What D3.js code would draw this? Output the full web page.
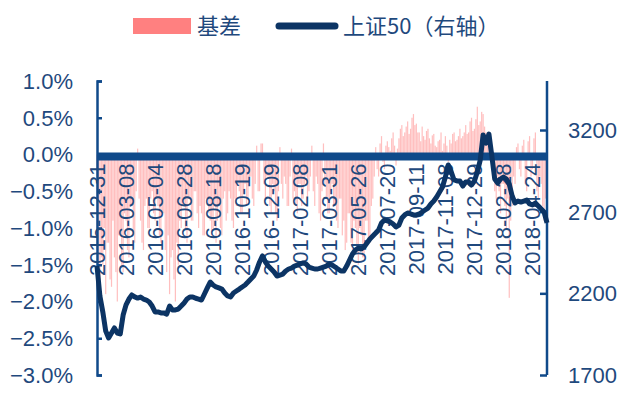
<!DOCTYPE html>
<html>
<head>
<meta charset="UTF-8">
<script src="https://d3js.org/d3.v7.min.js"></script>
<style>
  body { margin: 0; background: #fff; }
  svg text { font-family: "Liberation Sans", Arial, sans-serif; }
</style>
</head>
<body>
<div id="chart"></div>
<script>
// x tick labels and their positions (index in the 上证50 samples)
var tickLabels = ["2015-12-31", "2016-03-08", "2016-05-04", "2016-06-28", "2016-08-18", "2016-10-19",
  "2016-12-09", "2017-02-08", "2017-03-31", "2017-05-26", "2017-07-20", "2017-09-11",
  "2017-11-08", "2017-12-29", "2018-02-28", "2018-04-24"];
var tickIndex = [0, 10, 20, 30, 40, 50, 60, 70, 80, 90, 100, 110, 120, 130, 140, 150];

// 基差 (%)
var basis = [
  -1.3, -0.6, -2.0, -1.4, -1.5, -1.0, -1.9, -1.2, -1.2, -1.7, -1.8, -0.9, -1.4, -1.6, -2.0, -1.1, -1.1, -1.5, -1.6, -0.8,
  -0.9, -1.3, -1.4, -0.7, -0.7, -1.1, -1.2, -0.5, 0.08, -0.6, -0.9, -1.2, -1.3, -0.7, -0.6, -1.0, -1.0, -0.6, -0.5, -0.8,
  -0.9, -0.6, -0.7, -1.1, -1.2, -0.8, -0.8, -1.3, -1.6, -1.1, -1.9, -1.4, -1.3, -1.7, -2.0, -1.2, -1.5, -0.9, -1.0, -0.7,
  -0.7, -1.0, -1.2, -0.6, -0.6, -0.9, -0.9, -0.5, -0.5, -0.8, -1.0, -0.7, -0.8, -1.1, -1.1, -0.6, -0.6, -0.8, -0.9, -1.1,
  -1.0, -0.7, -1.2, -0.9, -0.7, -1.0, -1.1, -0.6, -0.5, -0.9, -0.8, -0.5, -0.6, -0.9, -1.0, -0.6, -0.7, -0.4, -0.5, -0.8,
  -0.8, -0.5, -0.4, -0.7, -0.6, -0.3, -0.3, -0.6, -0.7, -0.4, 0.12, -0.5, -0.5, 0.15, 0.15, -0.4, -0.6, -0.3, -0.3, -0.7,
  -0.8, -0.4, -0.5, -0.8, -0.9, -0.5, 0.10, -0.4, -0.6, -0.3, -0.4, -0.7, -0.7, -0.3, 0.08, -0.6, -0.5, -0.7, -0.8, -0.4,
  -0.4, -0.7, -0.6, -0.4, -0.3, -0.6, -0.5, -0.3, 0.12, -0.5, -0.7, -0.3, -0.4, -0.8, -0.9, -0.5, 0.15, -0.4, -0.6, -0.8,
  -0.8, -0.5, -0.4, -0.7, -0.7, -0.9, -1.0, -0.6, -0.6, -1.1, -0.9, -1.3, -1.2, -0.8, -0.8, -1.2, -1.3, -0.9, -1.0, -1.3,
  -1.5, -1.0, -1.1, -1.4, -1.4, -0.9, -0.9, -1.2, -1.2, -0.7, -0.6, -0.3, 0.10, -0.2, -0.3, 0.15, 0.25, -0.1, -0.2, 0.12,
  0.18, 0.10, 0.05, 0.22, 0.30, 0.12, -0.15, 0.08, 0.22, 0.35, 0.40, 0.25, 0.30, 0.38, 0.45, 0.28, 0.35, 0.50, 0.55, 0.40,
  0.42, 0.30, 0.30, 0.18, 0.38, 0.25, 0.20, 0.32, 0.35, 0.22, 0.15, 0.26, 0.28, 0.12, 0.10, 0.18, 0.20, 0.30, 0.05, 0.15,
  0.25, 0.12, -0.1, 0.20, 0.15, 0.28, 0.30, 0.18, 0.20, 0.25, 0.35, 0.22, 0.25, 0.30, 0.40, 0.28, 0.30, 0.45, 0.50, 0.32,
  0.35, 0.48, 0.65, 0.40, 0.45, 0.58, 0.55, 0.38, 0.30, 0.20, 0.15, 0.25, -0.2, -0.35, -0.5, -0.6, -0.3, -0.5, -0.8, -0.4,
  -0.4, -0.7, -1.0, -0.6, -1.95, -0.9, -0.7, -0.3, -0.4, 0.10, 0.15, -0.2, -0.3, 0.12, 0.20, -0.4, -0.5, 0.18, 0.25, -0.3,
  -0.2, 0.22, 0.30, -0.5, -0.6, -0.3, -0.4, -0.7, -0.9, -0.6, -0.5
];

// 上证50 (右轴)
var sz50 = [
  2367, 2184, 2086, 1969, 1927, 1957, 1988, 1957, 1951, 2067,
  2129, 2165, 2190, 2178, 2171, 2177, 2165, 2159, 2147, 2122,
  2086, 2086, 2080, 2080, 2073, 2122, 2098, 2098, 2104, 2122,
  2141, 2165, 2178, 2178, 2170, 2165, 2159, 2196, 2233, 2269,
  2251, 2239, 2233, 2226, 2202, 2184, 2178, 2202, 2214, 2226,
  2239, 2251, 2269, 2288, 2306, 2343, 2392, 2429, 2392, 2367,
  2349, 2331, 2306, 2312, 2318, 2337, 2349, 2355, 2367, 2373,
  2380, 2386, 2380, 2361, 2355, 2349, 2349, 2355, 2361, 2367,
  2380, 2373, 2361, 2349, 2337, 2337, 2367, 2404, 2441, 2465,
  2477, 2471, 2484, 2508, 2533, 2551, 2569, 2588, 2631, 2649,
  2643, 2637, 2624, 2606, 2618, 2661, 2680, 2692, 2686, 2680,
  2680, 2686, 2698, 2710, 2722, 2747, 2765, 2790, 2820, 2851,
  2912, 2986, 2943, 2894, 2888, 2888, 2857, 2882, 2882, 2863,
  2888, 2943, 3016, 3170, 3120, 3175, 3040, 2900, 2875, 2900,
  2912, 2900, 2869, 2796, 2753, 2765, 2759, 2765, 2771, 2747,
  2741, 2753, 2735, 2716, 2698, 2631
];

var leftTicks = [1.0, 0.5, 0.0, -0.5, -1.0, -1.5, -2.0, -2.5, -3.0];
var rightTicks = [1700, 2200, 2700, 3200];

var width = 633, height = 396;
var x0 = 97, x1 = 547, yTop = 81, yBot = 375;
var textColor = "#1F497D", axisColor = "#104a8a", lineColor = "#0c3464";

var svg = d3.select("#chart").append("svg")
  .attr("width", width)
  .attr("height", height);

var x = d3.scaleLinear().domain([0, sz50.length - 1]).range([x0, x1]);
var xb = d3.scaleLinear().domain([0, basis.length - 1]).range([x0, x1]);
var yL = d3.scaleLinear().domain([-3, 1]).range([yBot, yTop]);
var yR = d3.scaleLinear().domain([1700, 3500]).range([yBot, yTop]);

// basis bars
svg.append("g").selectAll("rect")
  .data(basis)
  .enter().append("rect")
  .attr("x", function(d, i) { return xb(i) - 0.6; })
  .attr("y", function(d) { return d >= 0 ? yL(d) : yL(0); })
  .attr("width", 1.2)
  .attr("height", function(d) { return Math.abs(yL(d) - yL(0)); })
  .attr("fill", "#ff8080")
  .attr("opacity", 0.5);

// left axis
var axL = svg.append("g")
  .attr("transform", "translate(" + x0 + ",0)")
  .call(d3.axisRight(yL).tickValues(leftTicks).tickSize(5).tickFormat(""));
axL.select(".domain").attr("stroke", axisColor).attr("stroke-width", 2.5);
axL.selectAll(".tick line").attr("stroke", axisColor).attr("stroke-width", 2.5);

svg.append("g").selectAll("text")
  .data(leftTicks)
  .enter().append("text")
  .attr("x", 73)
  .attr("y", function(d) { return yL(d); })
  .attr("dy", "0.36em")
  .attr("text-anchor", "end")
  .attr("font-size", "22px")
  .attr("fill", textColor)
  .text(function(d) { return d3.format(".1f")(d) + "%"; });

// right axis
var axR = svg.append("g")
  .attr("transform", "translate(" + x1 + ",0)")
  .call(d3.axisLeft(yR).tickValues(rightTicks).tickSize(7).tickFormat(""));
axR.select(".domain").attr("stroke", axisColor).attr("stroke-width", 2.5)
  .attr("d", "M0," + yBot + "V" + yTop);
axR.selectAll(".tick line").attr("stroke", axisColor).attr("stroke-width", 2.5);

svg.append("g").selectAll("text")
  .data(rightTicks)
  .enter().append("text")
  .attr("x", x1 + 21)
  .attr("y", function(d) { return yR(d); })
  .attr("dy", "0.36em")
  .attr("font-size", "22px")
  .attr("fill", textColor)
  .text(function(d) { return d; });

// x labels, rotated
svg.append("g").selectAll("text")
  .data(tickLabels)
  .enter().append("text")
  .attr("transform", function(d, i) { return "translate(" + x(tickIndex[i]) + "," + (yL(0) + 9) + ") rotate(-90)"; })
  .attr("dy", "0.36em")
  .attr("text-anchor", "end")
  .attr("font-size", "22px")
  .attr("fill", textColor)
  .text(function(d) { return d; });

// thick zero line
svg.append("line")
  .attr("x1", x0).attr("x2", x1)
  .attr("y1", yL(0) + 2).attr("y2", yL(0) + 2)
  .attr("stroke", axisColor)
  .attr("stroke-width", 8);

// 上证50 line
var line = d3.line()
  .x(function(d, i) { return x(i); })
  .y(function(d) { return yR(d); });

svg.append("path")
  .datum(sz50)
  .attr("d", line)
  .attr("fill", "none")
  .attr("stroke", lineColor)
  .attr("stroke-width", 5)
  .attr("stroke-linejoin", "round");

// legend
var lg = svg.append("g");
lg.append("rect")
  .attr("x", 133).attr("y", 18).attr("width", 58).attr("height", 16)
  .attr("fill", "#ff8080");
lg.append("text")
  .attr("x", 197).attr("y", 26).attr("dy", "0.36em")
  .attr("font-size", "22px")
  .attr("fill", textColor)
  .style("font-family", "'Noto Sans CJK SC', sans-serif")
  .text("基差");
lg.append("line")
  .attr("x1", 279).attr("x2", 335).attr("y1", 26).attr("y2", 26)
  .attr("stroke", lineColor).attr("stroke-width", 7).attr("stroke-linecap", "round");
lg.append("text")
  .attr("x", 343).attr("y", 26).attr("dy", "0.36em")
  .attr("font-size", "22px")
  .attr("fill", textColor)
  .style("font-family", "'Noto Sans CJK SC', sans-serif")
  .text("上证50（右轴）");
</script>
</body>
</html>
